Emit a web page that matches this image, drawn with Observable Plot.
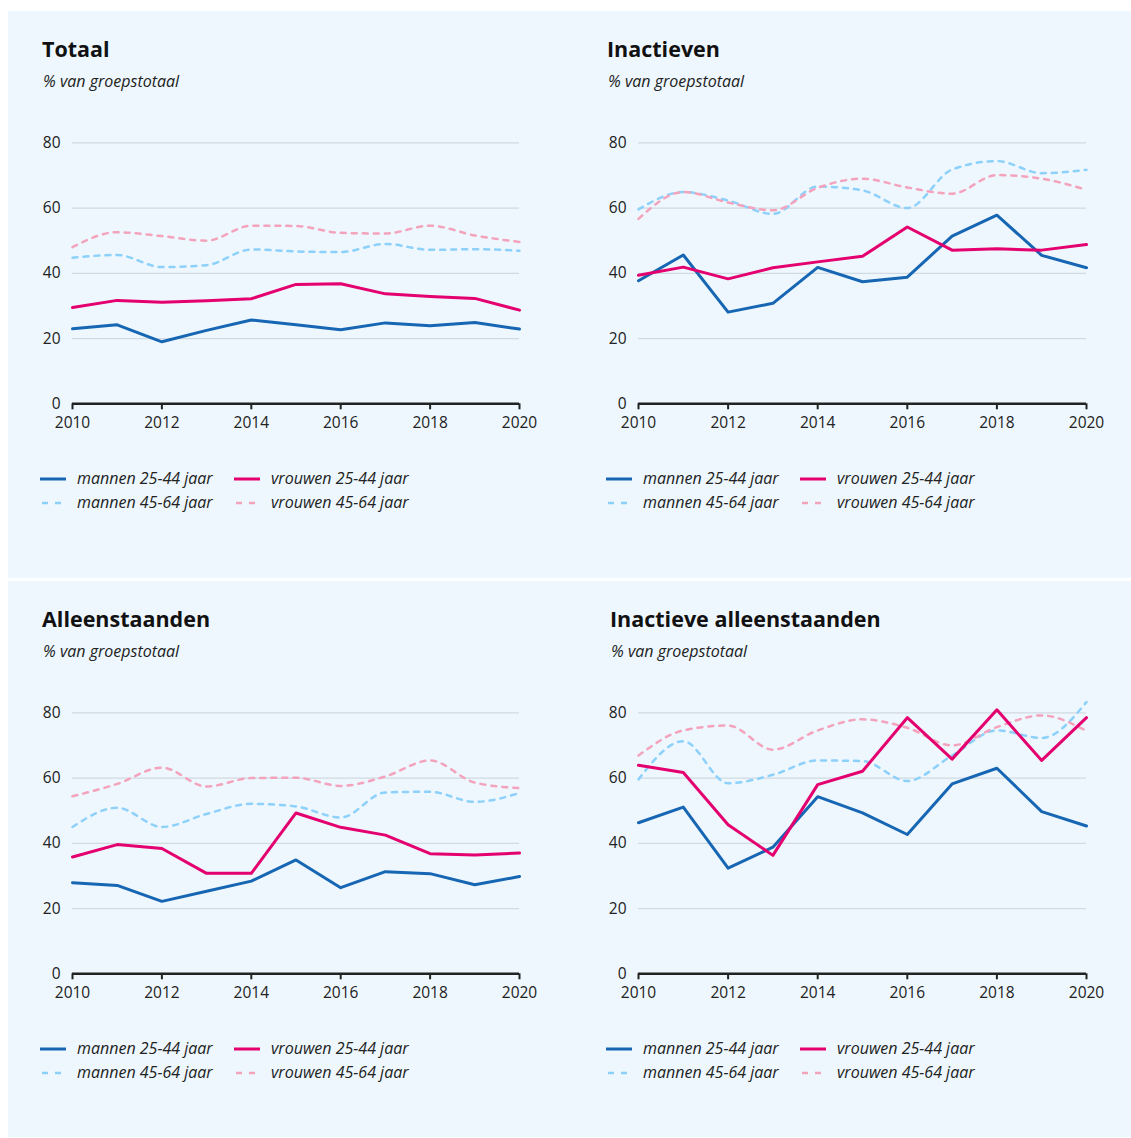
<!DOCTYPE html>
<html><head><meta charset="utf-8">
<script src="https://cdn.jsdelivr.net/npm/d3@7"></script>
<script src="https://cdn.jsdelivr.net/npm/@observablehq/plot@0.6"></script>
<style>
body{margin:0;background:#fff;font-family:"Open Sans",sans-serif;}
#root{position:relative;width:1131px;height:1138px;overflow:hidden;background:#fff;}
.bg{position:absolute;left:8px;top:11px;width:1123px;height:1126px;background:#edf7fd;}
.sep{position:absolute;left:8px;top:578px;width:1123px;height:3px;background:#fff;}
.title{position:absolute;font-weight:700;font-size:21.5px;color:#111;line-height:1;white-space:nowrap;}
.sub{position:absolute;font-style:italic;font-size:16px;color:#222;line-height:1;white-space:nowrap;}
.plot{position:absolute;}
.lg{position:absolute;font-style:italic;font-size:16px;color:#222;line-height:16px;white-space:nowrap;}
.sw{position:absolute;}
</style>
</head><body><div id="root"><div class="bg"></div><div class="sep"></div></div>
<script>
const years = [2010,2011,2012,2013,2014,2015,2016,2017,2018,2019,2020];
const xTicks = [2010,2012,2014,2016,2018,2020];
const yTicks = [0,20,40,60,80];
const seriesKeys = ["mannen 25-44 jaar","vrouwen 25-44 jaar","mannen 45-64 jaar","vrouwen 45-64 jaar"];
const seriesColors = ["#1666b3","#e4006f","#8dd1fb","#f4a3bd"];
const panelTitles = ["Totaal","Inactieven","Alleenstaanden","Inactieve alleenstaanden"];
const subtitle = "% van groepstotaal";

// Totaal
const totMan2544 = [23.0,24.2,19.0,22.5,25.7,24.2,22.7,24.8,23.9,24.9,22.9];
const totVrouw2544 = [29.5,31.7,31.1,31.6,32.2,36.6,36.8,33.7,32.9,32.3,28.7];
const totMan4564 = [44.8,45.6,41.9,42.5,47.3,46.7,46.5,49.0,47.2,47.4,46.9];
const totVrouw4564 = [48.0,52.6,51.4,50.0,54.6,54.5,52.4,52.2,54.6,51.6,49.6];
// Inactieven
const inaMan2544 = [37.7,45.6,28.1,30.8,41.8,37.4,38.8,51.4,57.8,45.5,41.7];
const inaVrouw2544 = [39.4,41.9,38.3,41.7,43.5,45.2,54.2,47.1,47.5,47.1,48.8];
const inaMan4564 = [59.6,64.9,62.3,58.2,66.6,65.4,60.0,71.8,74.4,70.7,71.7];
const inaVrouw4564 = [56.7,64.9,61.7,59.3,66.2,69.0,66.3,64.4,70.1,69.0,65.6];
// Alleenstaanden
const allMan2544 = [27.9,27.1,22.2,25.3,28.4,34.9,26.4,31.3,30.7,27.3,29.8];
const allVrouw2544 = [35.8,39.6,38.4,30.8,30.8,49.3,44.9,42.5,36.8,36.4,37.0];
const allMan4564 = [45.0,50.9,45.0,49.0,52.1,51.3,47.9,55.6,55.8,52.7,55.4];
const allVrouw4564 = [54.4,58.2,63.2,57.4,60.0,60.1,57.6,60.5,65.4,58.6,56.9];
// Inactieve alleenstaanden
const iaMan2544 = [46.3,51.1,32.4,38.8,54.3,49.3,42.7,58.2,63.0,49.7,45.3];
const iaVrouw2544 = [63.9,61.7,45.7,36.3,58.0,62.1,78.5,65.8,80.9,65.4,78.5];
const iaMan4564 = [59.6,71.3,58.4,61.0,65.4,65.2,59.1,66.9,74.6,72.3,83.3];
const iaVrouw4564 = [66.9,74.6,76.1,68.7,74.6,78.0,75.4,70.0,75.6,79.2,74.4];

const panelSeries = [
  [totMan2544,totVrouw2544,totMan4564,totVrouw4564],
  [inaMan2544,inaVrouw2544,inaMan4564,inaVrouw4564],
  [allMan2544,allVrouw2544,allMan4564,allVrouw4564],
  [iaMan2544,iaVrouw2544,iaMan4564,iaVrouw4564]
];

const root = document.getElementById("root");
const layout = [
  {dx:0, dy:0, titleX:42, width:560, mr:51},
  {dx:566, dy:0, titleX:607, width:555, mr:45},
  {dx:0, dy:570, titleX:42, width:560, mr:51},
  {dx:566, dy:570, titleX:610, width:555, mr:45}
];

function el(cls, text, left, top){
  const d = document.createElement("div");
  d.className = cls; d.textContent = text;
  d.style.left = left + "px"; d.style.top = top + "px";
  root.appendChild(d); return d;
}

function swatch(left, top, color, dashed){
  const ns = "http://www.w3.org/2000/svg";
  const s = document.createElementNS(ns, "svg");
  s.setAttribute("width", 28); s.setAttribute("height", 6);
  s.setAttribute("class", "sw");
  s.style.left = left + "px"; s.style.top = (top - 3) + "px";
  const l = document.createElementNS(ns, "line");
  l.setAttribute("x1", dashed ? 2 : 0); l.setAttribute("x2", 26);
  l.setAttribute("y1", 3); l.setAttribute("y2", 3);
  l.setAttribute("stroke", color);
  l.setAttribute("stroke-width", dashed ? 2.5 : 3);
  if (dashed) l.setAttribute("stroke-dasharray", "6,7");
  s.appendChild(l);
  root.appendChild(s);
}

panelSeries.forEach((series, pi) => {
  const L = layout[pi];
  el("title", panelTitles[pi], L.titleX, 38 + L.dy);
  el("sub", subtitle, L.titleX + 1, 73 + L.dy);

  const rows = [];
  series.forEach((vals, si) => vals.forEach((v, j) => rows.push({year: years[j], value: v, key: seriesKeys[si], dashed: si >= 2})));

  const chart = Plot.plot({
    width: L.width, height: 320,
    marginLeft: 62, marginRight: L.mr, marginTop: 22.3, marginBottom: 36.7,
    style: {background: "transparent", fontFamily: "Open Sans", fontSize: "15px", color: "#222", overflow: "visible"},
    x: {domain: [2010, 2020]},
    y: {domain: [0, 80]},
    color: {domain: seriesKeys, range: seriesColors},
    marks: [
      Plot.gridY(yTicks.filter(d => d > 0), {stroke: "#d2dae1", strokeOpacity: 1, strokeWidth: 1.2}),
      Plot.axisY(yTicks, {tickSize: 0, tickPadding: 12, fontSize: 15.5, label: null}),
      Plot.axisX(xTicks, {tickSize: 6, tickPadding: 7, strokeWidth: 2, fontSize: 15.5, tickFormat: d => String(d), label: null}),
      Plot.ruleY([0], {stroke: "#222", strokeWidth: 2.5}),
      Plot.lineY(rows.filter(d => d.dashed), {x: "year", y: "value", z: "key", stroke: "key", strokeWidth: 2.5, strokeDasharray: "5,6", curve: "monotone-x"}),
      Plot.lineY(rows.filter(d => !d.dashed), {x: "year", y: "value", z: "key", stroke: "key", strokeWidth: 3})
    ]
  });
  chart.classList.add("plot");
  chart.style.position = "absolute";
  chart.style.left = (10 + L.dx) + "px";
  chart.style.top = (120 + L.dy) + "px";
  root.appendChild(chart);

  // legend
  const rowsY = [479 + L.dy, 503 + L.dy];
  const cols = [40 + L.dx, 234 + L.dx];
  const order = [[0,1],[2,3]];
  order.forEach((pair, r) => pair.forEach((si, c) => {
    swatch(cols[c], rowsY[r], seriesColors[si], si >= 2);
    el("lg", seriesKeys[si], cols[c] + 37, rowsY[r] - 9);
  }));
});
</script></body></html>
